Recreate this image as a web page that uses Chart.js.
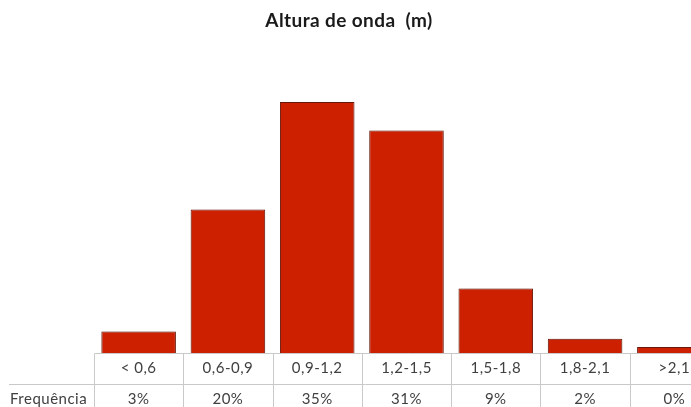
<!DOCTYPE html>
<html>
<head>
<meta charset="utf-8">
<script src="https://cdn.jsdelivr.net/npm/chart.js@4/dist/chart.umd.min.js"></script>
<style>
  html, body { margin: 0; padding: 0; background: #ffffff; overflow: hidden; }
  #wrap { width: 722px; height: 420px; }
</style>
</head>
<body>
<div id="wrap"><canvas id="chart" width="722" height="420"></canvas></div>
<script>
// Wave height classes (m) and how often each occurs (%)
const chartTitle = 'Altura de onda  (m)';
const categories = ['< 0,6', '0,6-0,9', '0,9-1,2', '1,2-1,5', '1,5-1,8', '1,8-2,1', '>2,1'];
const frequencies = [3, 20, 35, 31, 9, 2, 0];
const rowLabel = 'Frequência';

const FONT = 'Lato, "Liberation Sans", sans-serif';
const GRID = '#c9c9c9';
const TEXT = '#404040';

// Soft halo behind the bars
const barShadow = {
  id: 'barShadow',
  beforeDatasetsDraw(chart) {
    const ctx = chart.ctx;
    ctx.save();
    ctx.shadowColor = 'rgba(0,0,0,0.18)';
    ctx.shadowBlur = 6;
  },
  afterDatasetsDraw(chart) {
    chart.ctx.restore();
  }
};

// Title plus the data table under the plot
const dataTable = {
  id: 'dataTable',
  afterDraw(chart) {
    const ctx = chart.ctx;
    const x = chart.scales.x;
    const area = chart.chartArea;
    const n = categories.length;
    const step = (area.right - area.left) / n;
    const top = Math.round(area.bottom) + 0.5;
    const mid = top + 31;
    const bottom = chart.height;

    ctx.save();
    ctx.font = 'bold 19px ' + FONT;
    ctx.letterSpacing = '0.4px';
    ctx.fillStyle = '#1a1a1a';
    ctx.textAlign = 'center';
    ctx.textBaseline = 'middle';
    ctx.fillText(chartTitle, 349, 21);

    ctx.strokeStyle = GRID;
    ctx.lineWidth = 1;
    ctx.beginPath();
    ctx.moveTo(Math.round(area.left) + 0.5, top);
    ctx.lineTo(chart.width, top);
    ctx.moveTo(9, mid);
    ctx.lineTo(chart.width, mid);
    for (let i = 0; i <= n; i++) {
      const xp = Math.round(area.left + i * step) + 0.5;
      ctx.moveTo(xp, top);
      ctx.lineTo(xp, bottom);
    }
    ctx.stroke();

    ctx.fillStyle = TEXT;
    ctx.font = '15px ' + FONT;
    ctx.letterSpacing = '0.5px';
    ctx.textAlign = 'center';
    ctx.textBaseline = 'middle';
    categories.forEach((c, i) => {
      const cx = x.getPixelForValue(i);
      ctx.fillText(c, cx, top + 15);
      ctx.fillText(frequencies[i] + '%', cx, mid + 15);
    });
    ctx.textAlign = 'left';
    ctx.fillText(rowLabel, 10, mid + 15);
    ctx.restore();
  }
};

new Chart(document.getElementById('chart'), {
  type: 'bar',
  data: {
    labels: categories,
    datasets: [{
      data: frequencies,
      backgroundColor: '#cc2000',
      borderColor: '#6e1a0c',
      borderWidth: 1,
      barPercentage: 0.835,
      categoryPercentage: 1,
      minBarLength: 6,
      clip: 0
    }]
  },
  options: {
    responsive: false,
    animation: false,
    layout: { padding: { left: 94, right: 3, top: 66, bottom: 67 } },
    plugins: {
      legend: { display: false },
      title: { display: false },
      tooltip: { enabled: false }
    },
    scales: {
      x: { display: false },
      y: { display: false, min: 0, max: 40 }
    }
  },
  plugins: [barShadow, dataTable]
});
</script>
</body>
</html>
